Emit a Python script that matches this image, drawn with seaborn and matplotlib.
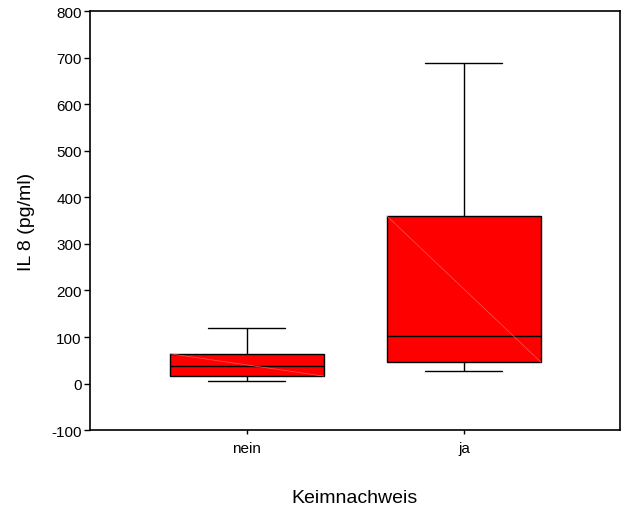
import numpy as np
import pandas as pd
import seaborn as sns
import matplotlib.pyplot as plt

# five-number summaries (min, q1, median, q3, max)
gruppen = ["nein", "ja"]
nein_werte = [5, 16, 37, 64, 120]
ja_werte = [27, 46, 103, 360, 688]

df = pd.DataFrame({
    "Keimnachweis": ["nein"] * len(nein_werte) + ["ja"] * len(ja_werte),
    "IL8": nein_werte + ja_werte,
})

sns.set_theme(style="white")
plt.rcParams["font.family"] = ["Liberation Sans", "DejaVu Sans"]

fig = plt.figure(figsize=(6.23, 5.06), dpi=100)
ax = fig.add_axes([0.1445, 0.148, 0.8505, 0.828])

sns.boxplot(data=df, x="Keimnachweis", y="IL8", order=gruppen, ax=ax,
            whis=(0, 100), width=0.71, color="#ff0000", saturation=1,
            linecolor="black", linewidth=1, showfliers=False)

# faint diagonal streak inside each box, as in the original export
for p in ax.patches:
    v = p.get_path().vertices
    x0, x1 = v[:, 0].min(), v[:, 0].max()
    y0, y1 = v[:, 1].min(), v[:, 1].max()
    ax.plot([x0, x1], [y1, y0], color="#ff5555", lw=0.5, zorder=p.get_zorder() + 0.1)

ax.set_xlim(-0.7235, 1.719)
ax.set_ylim(-100, 800)
ax.set_yticks(np.arange(-100, 801, 100))
ax.set_yticklabels([str(v) for v in range(-100, 801, 100)])

for s in ax.spines.values():
    s.set_visible(True)
    s.set_color("black")
    s.set_linewidth(1.2)

ax.tick_params(axis="y", which="both", left=True, length=4, width=1,
               color="black", labelsize=11, labelcolor="black", pad=2)
ax.tick_params(axis="x", bottom=True, length=3, width=1, color="black",
               labelsize=11, labelcolor="black", pad=5)

ax.set_ylabel("IL 8 (pg/ml)", fontsize=14, color="black", labelpad=12)
ax.set_xlabel("Keimnachweis", fontsize=14, color="black", labelpad=24)

fig.savefig("out.png", dpi=100)
